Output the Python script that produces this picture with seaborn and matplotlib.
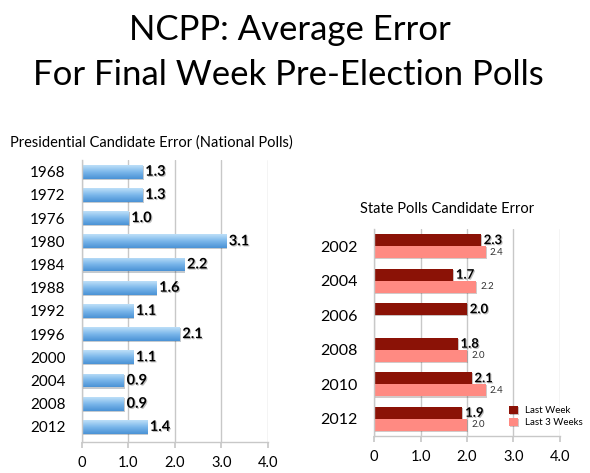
"""NCPP average error for final week pre-election polls -> out.png"""

import numpy as np
import pandas as pd
import matplotlib
matplotlib.use("Agg")
import matplotlib.pyplot as plt
import matplotlib.patheffects as pe
from matplotlib.colors import LinearSegmentedColormap
from matplotlib.container import BarContainer
import seaborn as sns

# ---- data -----------------------------------------------------------------
PRES_YEARS = ["1968", "1972", "1976", "1980", "1984", "1988",
              "1992", "1996", "2000", "2004", "2008", "2012"]
PRES_ERROR = [1.3, 1.3, 1.0, 3.1, 2.2, 1.6, 1.1, 2.1, 1.1, 0.9, 0.9, 1.4]

STATE_YEARS  = ["2002", "2004", "2006", "2008", "2010", "2012"]
LAST_WEEK    = [2.3, 1.7, 2.0, 1.8, 2.1, 1.9]
LAST_3_WEEKS = [2.4, 2.2, np.nan, 2.0, 2.4, 2.0]

XTICKS = [0, 1, 2, 3, 4]
XTICK_LABELS = ["0", "1.0", "2.0", "3.0", "4.0"]

# ---- style ----------------------------------------------------------------
sns.set_theme(style="white")
plt.rcParams["font.family"] = ["Lato", "DejaVu Sans"]
plt.rcParams["text.color"] = "black"
plt.rcParams["xtick.color"] = "black"
plt.rcParams["ytick.color"] = "black"

BLUE_LIGHT = "#BEE0F9"
BLUE_DARK  = "#4A92D5"
DARK_RED   = "#8B1206"
SALMON     = "#FF8A82"
GRID       = "#C8C8C8"
SHADOW     = [pe.withSimplePatchShadow(offset=(0.8, -0.8), alpha=0.25)]

blue_cmap = LinearSegmentedColormap.from_list("bar", [BLUE_LIGHT, "#7AB6EA", BLUE_DARK])


def style_axis(ax, label_size):
    ax.set_xlim(0, 4)
    ax.set_xticks(XTICKS)
    ax.set_xticklabels(XTICK_LABELS, fontsize=10.5)
    ax.xaxis.grid(True, color=GRID, lw=1)
    ax.set_axisbelow(True)
    ax.tick_params(axis="x", which="major", bottom=True, length=4,
                   color=GRID, labelcolor="black", pad=6)
    ax.tick_params(axis="y", left=False, length=0, pad=12,
                   labelsize=label_size, labelcolor="black")
    for s in ["top", "right"]:
        ax.spines[s].set_visible(False)
    for s in ["left", "bottom"]:
        ax.spines[s].set_color(GRID)
        ax.spines[s].set_linewidth(1)
    ax.set_xlabel("")
    ax.set_ylabel("")


def real_bars(container):
    """Drop the empty slots seaborn leaves for missing values."""
    bars = [b for b in container if b is not None]
    vals = [b.get_width() for b in bars]
    return BarContainer(bars, datavalues=vals, orientation="horizontal")


fig = plt.figure(figsize=(5.9, 4.73), dpi=100)

fig.text(0.492, 0.915, "NCPP: Average Error", ha="center", va="baseline",
         fontsize=25)
fig.text(0.488, 0.82, "For Final Week Pre-Election Polls", ha="center",
         va="baseline", fontsize=25)

# ---- left: presidential national polls ------------------------------------
pres = pd.DataFrame({"year": PRES_YEARS, "error": PRES_ERROR})
ax1 = fig.add_axes([0.139, 0.0655, 0.315, 0.597])
sns.barplot(data=pres, x="error", y="year", orient="h", ax=ax1,
            color=BLUE_DARK, width=0.6, edgecolor="none", saturation=1)

# vertical gradient on each bar
grad = np.linspace(0, 1, 64).reshape(-1, 1)
for bar in ax1.patches:
    x0, y0 = bar.get_x(), bar.get_y()
    w, h = bar.get_width(), bar.get_height()
    im = ax1.imshow(grad, cmap=blue_cmap, aspect="auto",
                    extent=(x0, x0 + w, y0 + h, y0), zorder=2,
                    interpolation="bicubic")
    im.set_clip_path(bar)
    bar.set_path_effects(SHADOW)
ax1.set_ylim(11.65, -0.52)

ax1.bar_label(ax1.containers[0], fmt="%.1f", padding=2, fontsize=10.5,
              fontweight="bold", color="black", path_effects=SHADOW)
style_axis(ax1, 11)
fig.text(0.017, 0.689, "Presidential Candidate Error (National Polls)",
         fontsize=10.5, va="baseline")

# ---- right: state polls ---------------------------------------------------
state = pd.DataFrame({
    "year": STATE_YEARS * 2,
    "error": LAST_WEEK + LAST_3_WEEKS,
    "window": ["Last Week"] * 6 + ["Last 3 Weeks"] * 6,
})
ax2 = fig.add_axes([0.634, 0.078, 0.315, 0.438])
sns.barplot(data=state, x="error", y="year", hue="window", orient="h",
            ax=ax2, palette=[DARK_RED, SALMON], width=0.7, edgecolor="none",
            saturation=1)
ax2.set_ylim(5.5, -0.5)
for bar in ax2.patches:
    bar.set_path_effects(SHADOW)

ax2.bar_label(real_bars(ax2.containers[0]), fmt="%.1f", padding=2,
              fontsize=9.5, fontweight="bold", color="black",
              path_effects=SHADOW)
ax2.bar_label(real_bars(ax2.containers[1]), fmt="%.1f", padding=3,
              fontsize=7, color="#333333")
style_axis(ax2, 11.5)
ax2.legend(loc="center left", bbox_to_anchor=(0.68, 0.095), frameon=False,
           fontsize=7, handlelength=0.9, handleheight=0.9,
           handletextpad=0.7, labelspacing=0.25)
fig.text(0.61, 0.549, "State Polls Candidate Error", fontsize=10.5,
         va="baseline")

fig.savefig("out.png", dpi=100)
plt.close(fig)
